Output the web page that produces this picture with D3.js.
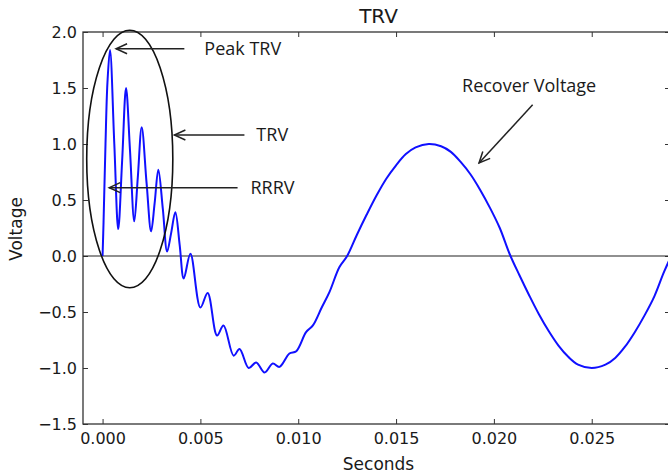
<!DOCTYPE html>
<html>
<head>
<meta charset="utf-8">
<script src="https://cdn.jsdelivr.net/npm/d3@7"></script>
<style>
  body { margin: 0; background: #fff; }
  svg { display: block; }
</style>
</head>
<body>
<div id="trv-chart"></div>
<script>
// time (s) and voltage (pu)
var seconds = [0.0000, 0.00005, 0.00015, 0.00025, 0.00038, 0.0006, 0.0008, 0.0010, 0.0012, 0.0014,
  0.00162, 0.0018, 0.0020, 0.00225, 0.00248, 0.00266, 0.00285, 0.00308, 0.0033, 0.0035,
  0.00372, 0.00394, 0.00415, 0.00449, 0.0050, 0.00537, 0.00585, 0.00618, 0.0067, 0.0070,
  0.00747, 0.00785, 0.00828, 0.0087, 0.00904, 0.00955, 0.0099, 0.0104, 0.01075, 0.0112,
  0.0116, 0.0121, 0.0125, 0.0130, 0.0135, 0.0140, 0.0145, 0.0150, 0.0155, 0.0160,
  0.01667, 0.0173, 0.0178, 0.0183, 0.0188, 0.0193, 0.0198, 0.0203, 0.0208, 0.0213,
  0.0218, 0.0223, 0.0228, 0.0233, 0.0238, 0.0243, 0.0250, 0.0257, 0.0262, 0.0267,
  0.0272, 0.0277, 0.0282, 0.0287, 0.0292];
var voltage = [0.00, 0.30, 1.00, 1.55, 1.84, 1.00, 0.24, 0.85, 1.50, 0.95,
  0.31, 0.70, 1.15, 0.65, 0.22, 0.47, 0.77, 0.42, 0.04, 0.20,
  0.39, 0.10, -0.20, 0.02, -0.46, -0.33, -0.71, -0.62, -0.89, -0.83,
  -1.00, -0.95, -1.04, -0.96, -0.99, -0.87, -0.85, -0.68, -0.62, -0.46,
  -0.32, -0.10, 0.00, 0.19, 0.37, 0.54, 0.69, 0.81, 0.91, 0.97,
  1.00, 0.98, 0.93, 0.84, 0.73, 0.59, 0.43, 0.25, 0.02, -0.17,
  -0.35, -0.52, -0.67, -0.80, -0.90, -0.97, -1.00, -0.97, -0.91, -0.81,
  -0.68, -0.53, -0.36, -0.14, 0.05];

var xTicks = [0.000, 0.005, 0.010, 0.015, 0.020, 0.025];
var yTicks = [-1.5, -1.0, -0.5, 0.0, 0.5, 1.0, 1.5, 2.0];

// annotations: label, text position, arrow tail, arrow tip (data units)
var noteLabels = ["Peak TRV", "TRV", "RRRV", "Recover Voltage"];
var noteText = [[0.0052, 1.85], [0.00786, 1.08], [0.00756, 0.61], [0.0218, 1.52]];
var noteTail = [[0.00418, 1.85], [0.00725, 1.08], [0.0069, 0.61], [0.02198, 1.35]];
var noteTip = [[0.00069, 1.85], [0.00367, 1.08], [0.00034, 0.61], [0.01924, 0.83]];
var noteAnchor = ["start", "start", "start", "middle"];

// ellipse round the TRV part: centre and radii
var ringCentre = [0.00139, 0.866];
var ringRadius = [0.0022, 1.15];

// set the dimensions and margins of the graph
var margin = {top: 32, right: -2, bottom: 51, left: 83},
    width = 668 - margin.left - margin.right,
    height = 475 - margin.top - margin.bottom;

var svg = d3.select("#trv-chart")
  .append("svg")
    .attr("width", 668)
    .attr("height", 475)
  .append("g")
    .attr("transform", "translate(" + margin.left + "," + margin.top + ")");

var x = d3.scaleLinear().domain([-0.001, 0.029]).range([0, width]);
var y = d3.scaleLinear().domain([-1.5, 2.0]).range([height, 0]);

var tickFont = "'DejaVu Sans', sans-serif";

// axes, ticks pointing in on all four sides
var xAxis = svg.append("g")
    .attr("transform", "translate(0," + height + ")")
    .call(d3.axisBottom(x).tickValues(xTicks).tickFormat(d3.format(".3f"))
      .tickSizeInner(-5).tickSizeOuter(0).tickPadding(9));
var xTop = svg.append("g")
    .call(d3.axisTop(x).tickValues(xTicks).tickFormat("").tickSizeInner(-5).tickSizeOuter(0));
var yAxis = svg.append("g")
    .call(d3.axisLeft(y).tickValues(yTicks).tickFormat(d3.format(".1f"))
      .tickSizeInner(-5).tickSizeOuter(0).tickPadding(6));
var yRight = svg.append("g")
    .attr("transform", "translate(" + width + ",0)")
    .call(d3.axisRight(y).tickValues(yTicks).tickFormat("").tickSizeInner(-5).tickSizeOuter(0));

[xAxis, xTop, yAxis, yRight].forEach(function(a) {
  a.select(".domain").remove();
  a.selectAll("line").attr("stroke", "#333").attr("stroke-width", 1);
  a.selectAll("text").attr("fill", "#1a1a1a").style("font-family", tickFont).style("font-size", "16px");
});

// frame
svg.append("rect")
    .attr("width", width)
    .attr("height", height)
    .attr("fill", "none")
    .attr("stroke", "#333")
    .attr("stroke-width", 1.3);

// zero line
svg.append("line")
    .attr("x1", 0).attr("x2", width)
    .attr("y1", y(0)).attr("y2", y(0))
    .attr("stroke", "#222")
    .attr("stroke-width", 1.1);

svg.append("clipPath").attr("id", "plot-clip")
  .append("rect").attr("width", width).attr("height", height);

// the voltage curve
var points = seconds.map(function(t, i) { return [t, voltage[i]]; });
var line = d3.line()
    .x(function(d) { return x(d[0]); })
    .y(function(d) { return y(d[1]); })
    .curve(d3.curveCatmullRom.alpha(0.5));

svg.append("path")
    .datum(points)
    .attr("clip-path", "url(#plot-clip)")
    .attr("fill", "none")
    .attr("stroke", "#1010ff")
    .attr("stroke-width", 2)
    .attr("d", line);

// ellipse
svg.append("ellipse")
    .attr("cx", x(ringCentre[0]))
    .attr("cy", y(ringCentre[1]))
    .attr("rx", x(ringCentre[0] + ringRadius[0]) - x(ringCentre[0]))
    .attr("ry", y(ringCentre[1] - ringRadius[1]) - y(ringCentre[1]))
    .attr("fill", "none")
    .attr("stroke", "#111")
    .attr("stroke-width", 1.6);

// open arrow head
svg.append("defs").append("marker")
    .attr("id", "head")
    .attr("viewBox", "-13 -7 15 14")
    .attr("refX", 0).attr("refY", 0)
    .attr("markerUnits", "userSpaceOnUse")
    .attr("markerWidth", 15).attr("markerHeight", 14)
    .attr("orient", "auto")
  .append("path")
    .attr("d", "M-11,-5L0,0L-11,5")
    .attr("fill", "none")
    .attr("stroke", "#222")
    .attr("stroke-width", 1.5);

noteLabels.forEach(function(label, i) {
  svg.append("line")
      .attr("x1", x(noteTail[i][0])).attr("y1", y(noteTail[i][1]))
      .attr("x2", x(noteTip[i][0])).attr("y2", y(noteTip[i][1]))
      .attr("stroke", "#222")
      .attr("stroke-width", 1.5)
      .attr("marker-end", "url(#head)");
  svg.append("text")
      .attr("x", x(noteText[i][0]))
      .attr("y", y(noteText[i][1]))
      .attr("dy", "0.35em")
      .attr("text-anchor", noteAnchor[i])
      .style("font-family", "'Open Sans', sans-serif")
      .style("font-size", "18px")
      .attr("fill", "#1a1a1a")
      .text(label);
});

// title and labels
svg.append("text")
    .attr("x", width / 2 + 2)
    .attr("y", -9)
    .attr("text-anchor", "middle")
    .style("font-family", tickFont)
    .style("font-size", "20px")
    .attr("fill", "#1a1a1a")
    .text("TRV");

svg.append("text")
    .attr("x", width / 2 + 2)
    .attr("y", height + 46)
    .attr("text-anchor", "middle")
    .style("font-family", tickFont)
    .style("font-size", "17px")
    .attr("fill", "#1a1a1a")
    .text("Seconds");

svg.append("text")
    .attr("transform", "translate(" + (22 - margin.left) + "," + (229 - margin.top) + ")rotate(-90)")
    .attr("text-anchor", "middle")
    .style("font-family", tickFont)
    .style("font-size", "17px")
    .attr("fill", "#1a1a1a")
    .text("Voltage");
</script>
</body>
</html>
